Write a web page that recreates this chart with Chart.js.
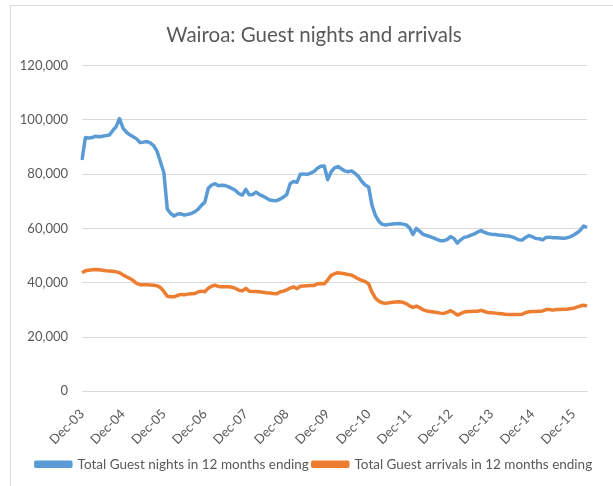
<!DOCTYPE html>
<html>
<head>
<meta charset="utf-8">
<script src="https://cdn.jsdelivr.net/npm/chart.js@4.4.1/dist/chart.umd.min.js"></script>
<style>
  body { margin: 0; background: #fff; overflow: hidden; }
  #frame { position: absolute; left: 10px; top: 5px; width: 700px; height: 700px; border: 1px solid #d9d9d9; }
  #chart { position: absolute; left: 0; top: 0; }
</style>
</head>
<body>
<div id="frame"></div>
<canvas id="chart" width="613" height="486"></canvas>
<script>
// monthly, Dec-03 .. Apr-16
const monthNames = ["Jan","Feb","Mar","Apr","May","Jun","Jul","Aug","Sep","Oct","Nov","Dec"];
const tickLabels = ["Dec-03","Dec-04","Dec-05","Dec-06","Dec-07","Dec-08","Dec-09",
                    "Dec-10","Dec-11","Dec-12","Dec-13","Dec-14","Dec-15"];

const guestNights = [
  85200, 93500, 93300, 93500, 94000, 93800, 94000, 94200, 94400, 96000, 97500, 100500,
  97000, 95500, 94500, 93800, 93000, 91700, 91800, 92000, 91500, 90500, 88400, 84500,
  80500, 67100, 65500, 64600, 65300, 65400, 64900, 65200, 65500, 66100, 67000, 68500,
  69700, 74800, 76000, 76500, 75700, 75900, 75800, 75300, 74700, 74000, 72800, 72300,
  74400, 72400, 72500, 73400, 72500, 71900, 71200, 70500, 70300, 70200, 70800, 71500,
  72500, 76500, 77300, 77000, 80000, 80100, 79900, 80400, 81000, 82200, 82900, 83000,
  78000, 80800, 82300, 82800, 82000, 81200, 80900, 81200, 80300, 79200, 77300, 76000,
  75300, 68500, 64800, 62600, 61500, 61300, 61500, 61600, 61700, 61800, 61600, 61300,
  60200, 57800, 60000, 58900, 57800, 57400, 57000, 56500, 56000, 55500, 55500, 55900,
  57000, 56300, 54600, 55800, 56700, 57000, 57500, 58000, 58700, 59200, 58500, 58100,
  57900, 57800, 57600, 57500, 57300, 57200, 56900, 56400, 55800, 55700, 56700, 57400,
  56900, 56300, 56200, 55800, 56700, 56800, 56600, 56600, 56500, 56400, 56500, 56900,
  57500, 58300, 59300, 60900, 60400
];

const guestArrivals = [
  43700, 44400, 44600, 44800, 44900, 44800, 44600, 44400, 44300, 44200, 44000, 43700,
  42900, 42200, 41600, 40800, 39800, 39300, 39300, 39300, 39200, 39100, 38900, 38200,
  36800, 35000, 34800, 34800, 35300, 35700, 35600, 35800, 35900, 36000, 36600, 36900,
  36700, 38000, 38700, 39100, 38600, 38500, 38500, 38500, 38300, 37900, 37200, 37000,
  37900, 36900, 36800, 36800, 36700, 36500, 36300, 36200, 36000, 35900, 36600, 36900,
  37400, 38000, 38500, 37800, 38700, 38800, 38900, 39000, 39000, 39600, 39700, 39600,
  41000, 42700, 43300, 43700, 43500, 43300, 43000, 42800, 42100, 41400, 40900, 40400,
  39600, 36500, 34300, 33200, 32600, 32400, 32600, 32800, 32900, 33000, 32800, 32300,
  31500, 30900, 31400, 30800, 30000, 29600, 29400, 29200, 29000, 28800, 28700, 29100,
  29700, 29000, 28100, 28600, 29200, 29400, 29400, 29500, 29500, 29800, 29400, 29000,
  28900, 28800, 28700, 28600, 28400, 28300, 28300, 28300, 28300, 28400, 29000, 29300,
  29400, 29400, 29500, 29600, 30100, 30100, 29900, 30100, 30100, 30200, 30200, 30400,
  30600, 31000, 31400, 31700, 31400
];

// category labels, one per month
const months = [];
for (let i = 0; i < guestNights.length; i++) {
  const m = (11 + i) % 12;
  const y = 3 + Math.floor((11 + i) / 12);
  months.push(monthNames[m] + "-" + String(y).padStart(2, "0"));
}

const font = "Lato, 'Open Sans', sans-serif";
const grey = "#595959";

new Chart(document.getElementById("chart"), {
  type: "line",
  data: {
    labels: months,
    datasets: [
      {
        label: "Total Guest nights in 12 months ending",
        data: guestNights,
        borderColor: "#5B9BD5",
        backgroundColor: "#5B9BD5",
        borderWidth: 3.5,
        pointRadius: 0,
        tension: 0,
        borderJoinStyle: "round"
      },
      {
        label: "Total Guest arrivals in 12 months ending",
        data: guestArrivals,
        borderColor: "#ED7D31",
        backgroundColor: "#ED7D31",
        borderWidth: 3.5,
        pointRadius: 0,
        tension: 0,
        borderJoinStyle: "round"
      }
    ]
  },
  options: {
    responsive: false,
    animation: false,
    layout: { padding: { left: 15, right: 0, top: 0, bottom: 5 } },
    plugins: {
      tooltip: { enabled: false },
      title: {
        display: true,
        text: "Wairoa: Guest nights and arrivals",
        color: grey,
        font: { family: font, size: 20.5, weight: "normal" },
        padding: { top: 23, bottom: 18 }
      },
      legend: {
        position: "bottom",
        labels: {
          boxWidth: 35,
          boxHeight: 4,
          padding: 4,
          color: grey,
          font: { family: font, size: 13.5 }
        }
      }
    },
    scales: {
      y: {
        min: 0,
        max: 120000,
        ticks: {
          stepSize: 20000,
          padding: 14,
          color: grey,
          font: { family: font, size: 13 },
          callback: v => v.toLocaleString("en-US")
        },
        grid: { color: "#d9d9d9", drawTicks: false },
        border: { display: false },
        afterFit: s => { s.width = 67; }
      },
      // empty right-hand spacer so the plot stops short of the frame
      yRight: {
        position: "right",
        grid: { display: false },
        ticks: { display: false },
        border: { display: false },
        afterFit: s => { s.width = 26; }
      },
      x: {
        ticks: {
          autoSkip: false,
          maxRotation: 45,
          minRotation: 45,
          padding: 7,
          color: grey,
          font: { family: font, size: 13 },
          callback: (v, i) => (i % 12 === 0 ? tickLabels[i / 12] : "")
        },
        grid: { display: false },
        border: { color: "#d9d9d9" },
        afterFit: s => { s.height -= 1; }
      }
    }
  }
});
</script>
</body>
</html>
